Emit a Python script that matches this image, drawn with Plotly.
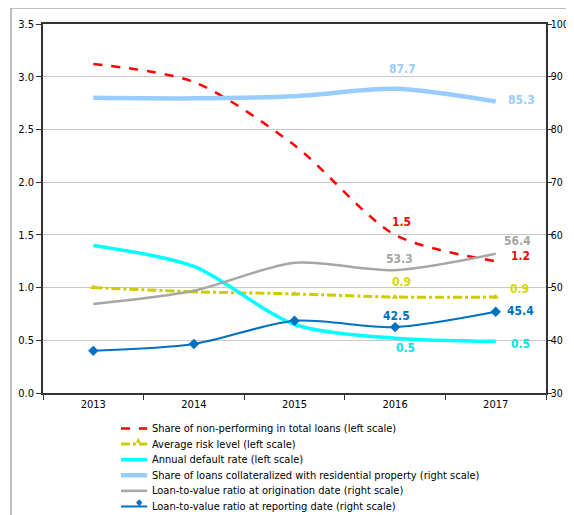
import plotly.graph_objects as go

years = ["2013", "2014", "2015", "2016", "2017"]

# left scale (%)
npl_share = [3.12, 2.95, 2.35, 1.50, 1.25]
avg_risk = [1.00, 0.96, 0.94, 0.91, 0.91]
default_rate = [1.40, 1.20, 0.65, 0.52, 0.49]

# right scale (%)
collateral_share = [86.0, 85.9, 86.3, 87.7, 85.3]
ltv_origination = [46.9, 49.4, 54.7, 53.3, 56.4]
ltv_reporting = [38.0, 39.3, 43.7, 42.5, 45.4]

npl_labels = ["", "", "", "1.5", "1.2"]
risk_labels = ["", "", "", "0.9", "0.9"]
default_labels = ["", "", "", "0.5", "0.5"]
collateral_labels = ["", "", "", "87.7", "85.3"]
ltv_orig_labels = ["", "", "", "53.3", "56.4"]
ltv_rep_labels = ["", "", "", "42.5", "45.4"]

FONT = "DejaVu Sans Condensed, Liberation Sans, sans-serif"

fig = go.Figure()

series = [
    ("Share of non-performing in total loans (left scale)", npl_share, "y",
     dict(color="#ff0000", width=2.5, dash="dash"), None),
    ("Average risk level (left scale)", avg_risk, "y",
     dict(color="#cccc00", width=3, dash="dashdot"), dict(symbol="triangle-up", size=6)),
    ("Annual default rate (left scale)", default_rate, "y",
     dict(color="#00ffff", width=3.5), None),
    ("Share of loans collateralized with residential property (right scale)", collateral_share, "y2",
     dict(color="#99ccff", width=4.5), None),
    ("Loan-to-value ratio at origination date (right scale)", ltv_origination, "y2",
     dict(color="#a6a6a6", width=2.5), None),
    ("Loan-to-value ratio at reporting date (right scale)", ltv_reporting, "y2",
     dict(color="#0070c0", width=2), dict(symbol="diamond", size=8)),
]

for name, vals, yax, line, marker in series:
    fig.add_trace(go.Scatter(
        x=years, y=vals, name=name, yaxis=yax,
        mode="lines+markers" if marker else "lines",
        line=dict(shape="spline", smoothing=0.8, **line),
        marker=dict(color=line["color"], **marker) if marker else None,
    ))

# data labels (offsets in px from the point)
label_sets = [
    (npl_share, npl_labels, "y", "#ff0000", [(0, 0)] * 3 + [(6, -13), (25, -5)]),
    (avg_risk, risk_labels, "y", "#d6d600", [(0, 0)] * 3 + [(6, -15), (24, -8)]),
    (default_rate, default_labels, "y", "#00e6e6", [(0, 0)] * 3 + [(10, 10), (25, 3)]),
    (collateral_share, collateral_labels, "y2", "#99ccff", [(0, 0)] * 3 + [(7, -20), (26, -1)]),
    (ltv_origination, ltv_orig_labels, "y2", "#a6a6a6", [(0, 0)] * 3 + [(4, -11), (22, -13)]),
    (ltv_reporting, ltv_rep_labels, "y2", "#0070c0", [(0, 0)] * 3 + [(1, -11), (25, -1)]),
]
for vals, labels, yref, color, offs in label_sets:
    for i, (v, t, (dx, dy)) in enumerate(zip(vals, labels, offs)):
        if t:
            fig.add_annotation(x=i, y=v, yref=yref, text="<b>%s</b>" % t,
                               showarrow=False, xshift=dx, yshift=-dy,
                               font=dict(color=color, size=12, family=FONT))

# legend drawn by hand (plotly's legend rows are too tall to fit)
leg_x0, leg_x1, leg_tx = 0.155, 0.207, 0.213
leg_top, leg_step = -0.096, 0.0423
symbols = {"triangle-up": ("\u25b2", 7, -2), "diamond": ("\u25c6", 9, -2.5)}
for k, (name, vals, yax, line, marker) in enumerate(series):
    yy = leg_top - k * leg_step
    fig.add_shape(type="line", xref="paper", yref="paper",
                  x0=leg_x0, x1=leg_x1, y0=yy, y1=yy,
                  line=dict(color=line["color"], width=line["width"],
                            dash=line.get("dash", "solid")))
    if marker:
        ch, sz, sh = symbols[marker["symbol"]]
        fig.add_annotation(xref="paper", yref="paper", x=(leg_x0 + leg_x1) / 2, y=yy,
                           text=ch, showarrow=False, yshift=sh,
                           font=dict(size=sz, color=line["color"], family=FONT))
    fig.add_annotation(xref="paper", yref="paper", x=leg_tx, y=yy,
                       xanchor="left", yanchor="middle", showarrow=False,
                       text=name, font=dict(size=11, color="black", family=FONT))

# outer frame and the cut-off unit label
fig.add_shape(type="rect", xref="paper", yref="paper",
              x0=-0.0636, x1=1.1, y0=-0.4, y1=1.0434,
              line=dict(color="#808080", width=1), layer="below")
fig.add_annotation(xref="paper", yref="paper", x=-0.062, y=1.053,
                   xanchor="left", yanchor="bottom", showarrow=False,
                   text="<b>in %</b>", font=dict(size=15, family=FONT, color="black"))

# page body has an 8px margin, so the figure is shifted and shrunk by 8px
fig.update_layout(
    width=566, height=507,
    margin=dict(l=35, r=28, t=16, b=122),
    plot_bgcolor="white", paper_bgcolor="white",
    font=dict(family=FONT, size=11, color="black"),
    showlegend=False,
    xaxis=dict(type="category", range=[-0.5, 4.5], tickson="boundaries",
               ticks="outside", ticklen=5, tickangle=0, automargin=False,
               showline=True, linecolor="#333333", linewidth=1.5, mirror=True,
               showgrid=False, tickcolor="#333333"),
    yaxis=dict(range=[0, 3.5], dtick=0.5, tickformat=".1f", ticks="outside", ticklen=5,
               showline=True, linecolor="#333333", linewidth=1.5, automargin=False,
               gridcolor="#c8c8c8", gridwidth=1, zeroline=False, tickcolor="#333333"),
    yaxis2=dict(range=[30, 100], dtick=10, overlaying="y", side="right",
                ticks="outside", ticklen=4, ticklabelstandoff=-3,
                showline=True, linecolor="#333333",
                linewidth=1.5, showgrid=False, zeroline=False, tickcolor="#333333",
                tickfont=dict(size=10.5), automargin=False),
)

fig.write_html("out.html")
